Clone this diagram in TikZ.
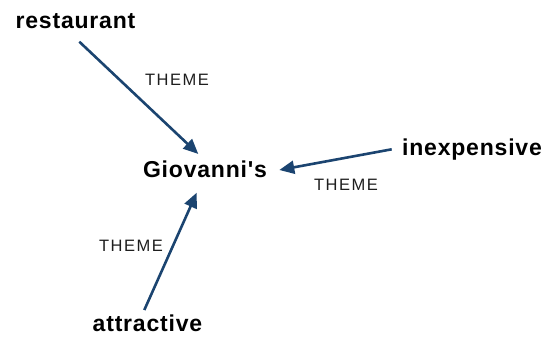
\documentclass[tikz,border=0pt]{standalone}
\usepackage{fontspec}
\newfontfamily\diagfont{Liberation Sans}
\usetikzlibrary{arrows.meta}
\definecolor{edgeblue}{HTML}{1B4470}
\definecolor{labelgray}{HTML}{1E1E1E}
\begin{document}
\begin{tikzpicture}[x=1pt,y=-1pt,
  concept/.style={font=\diagfont\fontsize{23}{25}\selectfont\bfseries\addfontfeature{LetterSpace=3.5}, inner sep=0pt, anchor=base, text=black},
  role/.style={font=\diagfont\fontsize{16.5}{18}\selectfont\addfontfeature{LetterSpace=9}, inner sep=0pt, anchor=base, text=labelgray},
  relation/.style={draw=edgeblue, line width=2.6pt, -{Triangle[length=15pt,width=13pt]}}
]
\useasboundingbox (0,0) rectangle (548,338);

% concepts
\node[concept] (giovanni) at (205,177.3) {Giovanni's};
\node[concept] (restaurant) at (75.5,28.3) {restaurant};
\node[concept] (inexpensive) at (472,155) {inexpensive};
\node[concept] (attractive) at (147.5,331.7) {attractive};

% end points of the relations
\coordinate (r-from) at (79.3,41.7);
\coordinate (r-to) at (198.3,154);
\coordinate (i-from) at (391.7,149.3);
\coordinate (i-to) at (279.3,170);
\coordinate (a-from) at (144.3,310);
\coordinate (a-to) at (196.7,192.7);

\draw[relation] (r-from) -- (r-to);
\draw[relation] (i-from) -- (i-to);
\draw[relation] (a-from) -- (a-to);

% relation labels
\node[role] (theme-r) at (177,85) {THEME};
\node[role] (theme-i) at (346,190) {THEME};
\node[role] (theme-a) at (131,251) {THEME};
\end{tikzpicture}
\end{document}
